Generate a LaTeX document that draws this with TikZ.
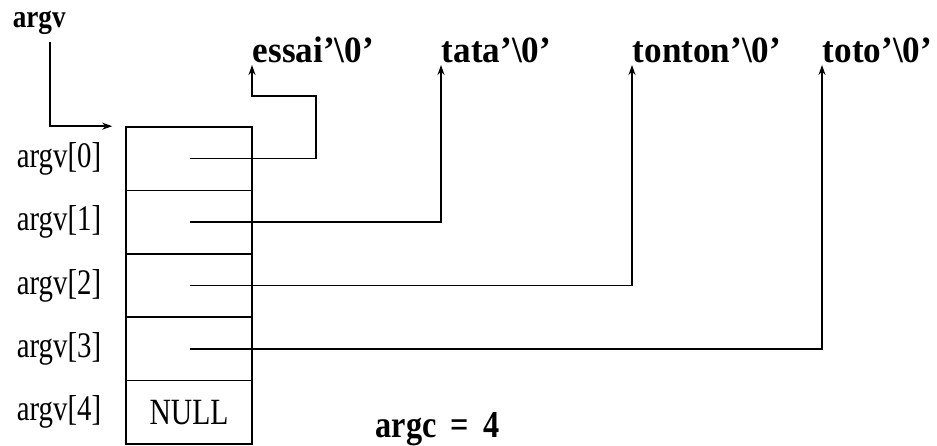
\documentclass[tikz,border=0pt]{standalone}
\usepackage{fontspec}
\setmainfont{Liberation Serif}
\newfontfamily\lblfont[FakeStretch=0.8]{Liberation Serif}
\newfontfamily\strfont[FakeStretch=0.95]{Liberation Serif}
\newfontfamily\varfont[FakeStretch=0.85]{Liberation Serif}
\usetikzlibrary{arrows.meta}
\begin{document}
\begin{tikzpicture}[x=1pt,y=-1pt,
  line width=1.6pt,
  cell/.style={draw,rectangle,minimum width=126pt,minimum height=63.4pt,inner sep=0pt,
    font=\lblfont\fontsize{37}{40}\selectfont},
  idx/.style={inner sep=0pt,font=\lblfont\fontsize{36}{40}\selectfont},
  str/.style={inner sep=0pt,anchor=base west,font=\strfont\bfseries\fontsize{37}{40}\selectfont},
  ptr/.style={-{Stealth[length=10pt,width=7pt]}}]
\useasboundingbox (0,0) rectangle (937,446);

% the argv array, one cell per entry
\node[cell] (c0) at (189,158.7) {};
\node[cell] (c1) at (189,222.1) {};
\node[cell] (c2) at (189,285.5) {};
\node[cell] (c3) at (189,348.9) {};
\node[cell] (c4) at (189,412.3) {NULL};

% index labels
\node[idx] (l0) at (59,158.7) {argv[0]};
\node[idx] (l1) at (59,222.1) {argv[1]};
\node[idx] (l2) at (59,285.5) {argv[2]};
\node[idx] (l3) at (59,348.9) {argv[3]};
\node[idx] (l4) at (59,412.3) {argv[4]};

% the strings
\node[str] (s0) at (252,63) {essai’\textbackslash0’};
\node[str] (s1) at (441,63) {tata’\textbackslash0’};
\node[str] (s2) at (632,63) {tonton’\textbackslash0’};
\node[str] (s3) at (822,63) {toto’\textbackslash0’};

% the argv variable and argc
\node[inner sep=0pt,anchor=base west,font=\varfont\bfseries\fontsize{32}{36}\selectfont] (argv) at (12,28) {argv};
\node[inner sep=0pt,anchor=base west,font=\varfont\bfseries\fontsize{38}{40}\selectfont] (argc) at (375,437) {argc\hspace{14pt}=\hspace{14pt}4};

% pointer origins inside the cells
\coordinate (p0) at (190,158.7);
\coordinate (p1) at (190,222.1);
\coordinate (p2) at (190,285.5);
\coordinate (p3) at (190,348.9);

% connectors
\draw[ptr] ([xshift=11pt,yshift=-6pt]argv.south) |- ([xshift=-13pt]c0.north west);
\draw[ptr] (p0) -- (316,158.7) -- (316,96) -| ([yshift=-2pt]s0.base west);
\draw[ptr] (p1) -| ([yshift=-2pt]s1.base west);
\draw[ptr] (p2) -| ([yshift=-2pt]s2.base west);
\draw[ptr] (p3) -| ([yshift=-2pt]s3.base west);
\end{tikzpicture}
\end{document}
